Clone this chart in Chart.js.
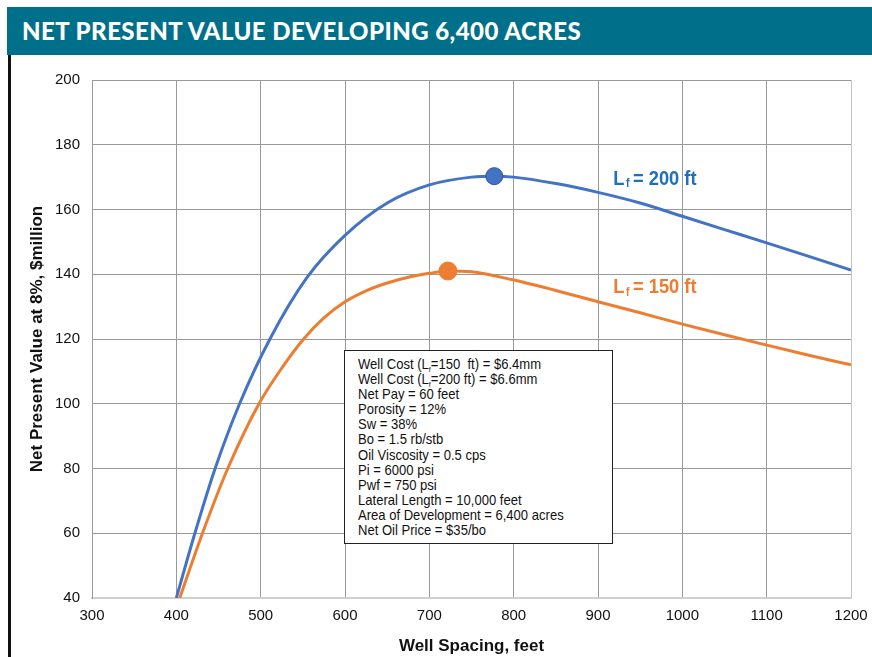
<!DOCTYPE html>
<html lang="en">
<head>
<meta charset="UTF-8" />
<title>Net Present Value Developing 6,400 Acres</title>
<script src="https://cdn.jsdelivr.net/npm/chart.js@4.4.1/dist/chart.umd.min.js"></script>
<style>
    body { margin: 0; background: #ffffff; width: 872px; height: 657px; overflow: hidden; position: relative; }
    .title-bar {
        position: absolute; left: 7px; top: 7px; width: 865px; height: 48px;
        background: #00708a; color: #ffffff;
        font-family: 'Lato', 'Open Sans', sans-serif; font-weight: 900; font-size: 24px;
        line-height: 48px; padding-left: 15px; box-sizing: border-box; letter-spacing: 0.45px;
    }
    .left-rule { position: absolute; left: 8px; top: 55px; width: 3px; height: 602px; background: #111; }
    .chart-wrap { position: absolute; left: 0; top: 55px; width: 872px; height: 602px; }
    .note {
        position: absolute; left: 344px; top: 350px; width: 269px; height: 194px;
        box-sizing: border-box; border: 1px solid #222; background: #fff;
        padding: 5px 0 0 13px; overflow: hidden;
    }
    .note-text {
        font-family: 'Liberation Sans', Arial, sans-serif;
        font-size: 15px; line-height: 15.1px; color: #111;
        white-space: nowrap; transform: scaleX(0.87); transform-origin: 0 0;
    }
    .note-text .sub { font-size: 8px; position: relative; top: 3px; line-height: 0; }
</style>
</head>
<body>
<div class="title-bar">NET PRESENT VALUE DEVELOPING 6,400 ACRES</div>
<div class="chart-wrap"><canvas id="npvChart"></canvas></div>
<div class="left-rule"></div>
<div class="note"><div class="note-text">
    Well Cost (L<span class="sub">f</span>=150&nbsp; ft) = $6.4mm<br>
    Well Cost (L<span class="sub">f</span>=200 ft) = $6.6mm<br>
    Net Pay = 60 feet<br>
    Porosity = 12%<br>
    Sw = 38%<br>
    Bo = 1.5 rb/stb<br>
    Oil Viscosity = 0.5 cps<br>
    Pi = 6000 psi<br>
    Pwf = 750 psi<br>
    Lateral Length = 10,000 feet<br>
    Area of Development = 6,400 acres<br>
    Net Oil Price = $35/bo
</div></div>

<script>
    // well spacing (ft) and NPV ($million)
    const spacing200 = [400, 422, 446, 475, 511, 555, 600, 650, 700, 750, 777, 800, 850, 900, 950, 1000, 1050, 1100, 1150, 1200];
    const npv200 = [40, 60, 80, 100, 120, 139, 152, 162, 167.6, 170, 170.3, 170, 168, 165.3, 162, 157.9, 153.8, 149.7, 145.5, 141.3];

    const spacing150 = [404, 431, 461, 498, 525, 551, 575, 600, 625, 650, 675, 700, 722, 750, 800, 850, 900, 950, 1000, 1050, 1100, 1150, 1200];
    const npv150 = [40, 60, 80, 100, 111, 120, 126.5, 131.5, 134.9, 137.3, 139.1, 140.3, 141, 140.8, 138.2, 135, 131.5, 128.1, 124.6, 121.3, 118.1, 115, 112];

    // optimum points
    const peakSpacing = [777, 722];
    const peakNpv = [170.3, 141];

    const seriesNames = ['200', '150'];
    const xTicks = [300, 400, 500, 600, 700, 800, 900, 1000, 1100, 1200];
    const yTicks = [40, 60, 80, 100, 120, 140, 160, 180, 200];

    const BLUE = '#4472c4';
    const ORANGE = '#ed7d31';
    const SANS = "'Liberation Sans', Arial, sans-serif";

    const toPoints = (xs, ys) => xs.map((x, i) => ({ x: x, y: ys[i] }));

    // curve labels "Lf = 200 ft" with a subscript f, squeezed to look narrow
    const curveLabels = {
        id: 'curveLabels',
        afterDatasetsDraw(chart, args, opts) {
            const { ctx, scales } = chart;
            opts.items.forEach(item => {
                const px = scales.x.getPixelForValue(item.x);
                const py = scales.y.getPixelForValue(item.y);
                ctx.save();
                ctx.translate(px, py);
                ctx.scale(0.87, 1);
                ctx.textBaseline = 'middle';
                ctx.textAlign = 'left';
                ctx.fillStyle = item.color;
                let x = 0;
                ctx.font = 'bold 21px ' + SANS;
                ctx.fillText('L', x, 0);
                x += ctx.measureText('L').width + 2;
                ctx.font = 'bold 12px ' + SANS;
                ctx.fillText('f', x, 5);
                x += ctx.measureText('f').width + 4;
                ctx.font = 'bold 21px ' + SANS;
                ctx.fillText('= ' + item.text + ' ft', x, 0);
                ctx.restore();
            });
        }
    };

    new Chart(document.getElementById('npvChart'), {
        type: 'line',
        data: {
            datasets: [
                {
                    label: 'Peak Lf = ' + seriesNames[0] + ' ft',
                    data: [{ x: peakSpacing[0], y: peakNpv[0] }],
                    showLine: false,
                    pointRadius: 8.5,
                    pointBackgroundColor: BLUE,
                    pointBorderColor: '#2f5597',
                    pointBorderWidth: 1
                },
                {
                    label: 'Peak Lf = ' + seriesNames[1] + ' ft',
                    data: [{ x: peakSpacing[1], y: peakNpv[1] }],
                    showLine: false,
                    pointRadius: 9,
                    pointBackgroundColor: ORANGE,
                    pointBorderColor: ORANGE,
                    pointBorderWidth: 1
                },
                {
                    label: 'Lf = ' + seriesNames[0] + ' ft',
                    data: toPoints(spacing200, npv200),
                    borderColor: BLUE,
                    borderWidth: 3,
                    pointRadius: 0,
                    cubicInterpolationMode: 'monotone'
                },
                {
                    label: 'Lf = ' + seriesNames[1] + ' ft',
                    data: toPoints(spacing150, npv150),
                    borderColor: ORANGE,
                    borderWidth: 3,
                    pointRadius: 0,
                    cubicInterpolationMode: 'monotone'
                }
            ]
        },
        options: {
            responsive: true,
            maintainAspectRatio: false,
            animation: false,
            layout: { padding: { left: 0, right: 21, top: 25, bottom: 0 } },
            plugins: {
                legend: { display: false },
                tooltip: { enabled: false },
                curveLabels: {
                    items: [
                        { x: 918, y: 169.4, text: seriesNames[0], color: '#1f6fbf' },
                        { x: 918, y: 135.9, text: seriesNames[1], color: ORANGE }
                    ]
                }
            },
            scales: {
                x: {
                    type: 'linear',
                    min: 300,
                    max: 1200,
                    afterFit: s => {
                        s.height = 59;
                        s.paddingLeft = 0;
                        s.paddingRight = 0;
                    },
                    afterBuildTicks: s => { s.ticks = xTicks.map(v => ({ value: v })); },
                    grid: {
                        drawTicks: false,
                        color: c => (c.tick && c.tick.value === 1200 ? '#c4c4c4' : '#999999'),
                        lineWidth: 1
                    },
                    border: { color: '#d0d0d0', width: 2 },
                    ticks: {
                        padding: 9,
                        color: '#111',
                        callback: v => String(v),
                        font: { family: SANS, size: 15 }
                    },
                    title: {
                        display: true,
                        text: 'Well Spacing, feet',
                        color: '#111',
                        padding: { top: 0, bottom: 0 },
                        font: { family: SANS, size: 17, weight: 'bold' }
                    }
                },
                y: {
                    min: 40,
                    max: 200,
                    afterFit: s => { s.width = 92; },
                    afterBuildTicks: s => { s.ticks = yTicks.map(v => ({ value: v })); },
                    grid: { drawTicks: false, color: '#999999', lineWidth: 1 },
                    border: { color: '#999999', width: 1 },
                    ticks: {
                        padding: 12,
                        color: '#111',
                        callback: v => String(v),
                        font: { family: SANS, size: 15 }
                    },
                    title: {
                        display: true,
                        text: 'Net Present Value at 8%, $million',
                        color: '#111',
                        padding: { top: 27, bottom: 0 },
                        font: { family: SANS, size: 17, weight: 'bold' }
                    }
                }
            }
        },
        plugins: [curveLabels]
    });
</script>
</body>
</html>
